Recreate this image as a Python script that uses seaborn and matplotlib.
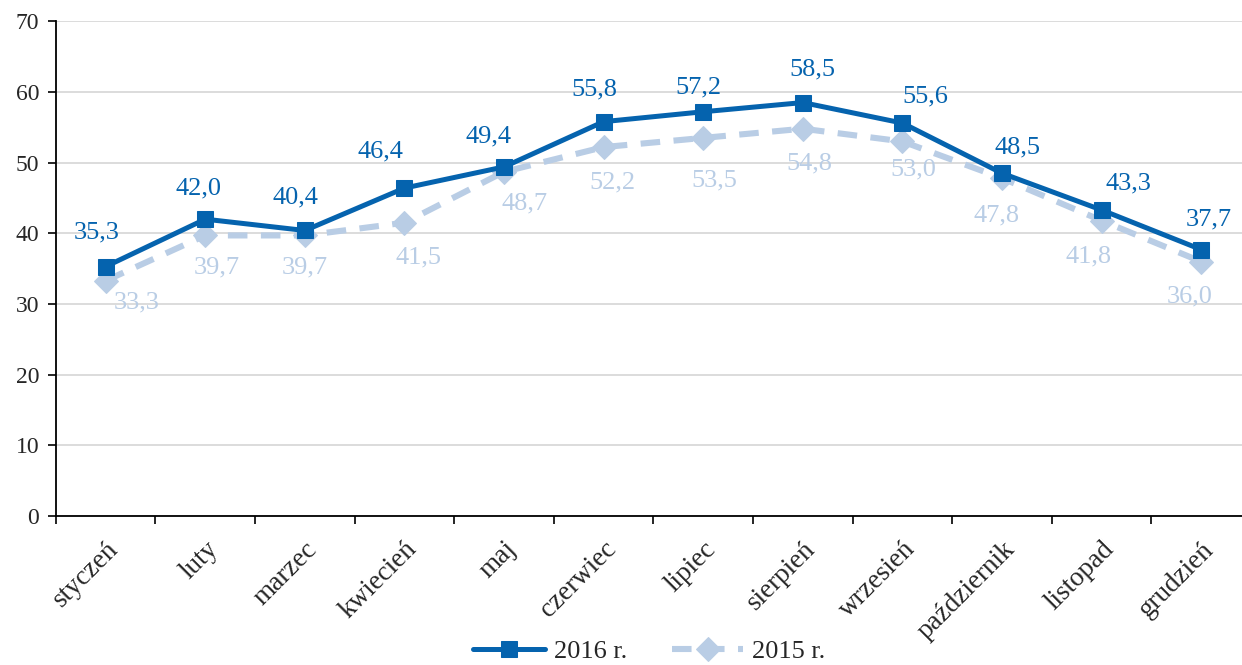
import numpy as np
import pandas as pd
import matplotlib
matplotlib.use("Agg")
import matplotlib.pyplot as plt
import seaborn as sns
from matplotlib.ticker import FixedLocator

months = ["styczeń", "luty", "marzec", "kwiecień", "maj", "czerwiec",
          "lipiec", "sierpień", "wrzesień", "październik", "listopad", "grudzień"]
vals_2016 = [35.3, 42.0, 40.4, 46.4, 49.4, 55.8, 57.2, 58.5, 55.6, 48.5, 43.3, 37.7]
vals_2015 = [33.3, 39.7, 39.7, 41.5, 48.7, 52.2, 53.5, 54.8, 53.0, 47.8, 41.8, 36.0]

# label offsets (pixels) as placed in the original
off_2016 = [(-9, 34), (-7, 31), (-9, 33), (-24, 37), (-16, 30), (-9, 32),
            (-5, 24), (10, 33), (23, 27), (16, 26), (27, 27), (8, 30)]
off_2015 = [(31, -22), (11, -32), (0, -32), (14, -35), (21, -32), (9, -35),
            (11, -43), (7, -35), (11, -28), (-5, -37), (-13, -36), (-12, -35)]

dark = "#0563AE"
light = "#B9CDE5"

sns.set_style("white")
plt.rcParams['font.family'] = ['Liberation Serif', 'DejaVu Serif']

df = pd.DataFrame({"idx": np.arange(len(months)), "m": months,
                   "v2016": vals_2016, "v2015": vals_2015})

fig = plt.figure(figsize=(12.42, 6.65), dpi=100)
ax = fig.add_axes([0.045, 0.224, 0.955, 0.744])

sns.lineplot(data=df, x="idx", y="v2015", ax=ax, color=light, lw=4.4,
             marker="D", markersize=12, markeredgecolor=light,
             dashes=(3.2, 2.2), label="2015 r.", zorder=3)
sns.lineplot(data=df, x="idx", y="v2016", ax=ax, color=dark, lw=3.6,
             marker="s", markersize=11, markeredgecolor=dark,
             label="2016 r.", zorder=4)

px = 0.72  # pixels -> points at dpi 100
for i, (a, b) in enumerate(zip(vals_2016, vals_2015)):
    ax.annotate(f"{a:.1f}".replace(".", ","), (i, a),
                xytext=(off_2016[i][0] * px, off_2016[i][1] * px),
                textcoords="offset points", ha="center", va="center",
                fontsize=19, color=dark)
    ax.annotate(f"{b:.1f}".replace(".", ","), (i, b),
                xytext=(off_2015[i][0] * px, off_2015[i][1] * px),
                textcoords="offset points", ha="center", va="center",
                fontsize=19, color=light)

ax.set_ylim(0, 70)
ax.set_yticks(range(0, 71, 10))
ax.set_xlim(-0.5, 11.41)
ax.set_xticks(range(len(months)))
ax.set_xticklabels(months, rotation=45, ha="right", rotation_mode="anchor")
ax.xaxis.set_minor_locator(FixedLocator(np.arange(-0.5, 11.6, 1)))
ax.tick_params(axis="x", which="major", length=0, labelsize=19.5, pad=15)
ax.tick_params(axis="x", which="minor", length=6, width=1.2, color="black", direction="out", bottom=True)
ax.tick_params(axis="y", length=6, width=1.2, color="black", direction="out", left=True, labelsize=17, pad=6)
ax.grid(axis="y", color="#D9D9D9", lw=1.3)
ax.set_axisbelow(True)
ax.set_xlabel("")
ax.set_ylabel("")
for s in ["top", "right"]:
    ax.spines[s].set_visible(False)
for s in ["left", "bottom"]:
    ax.spines[s].set_color("black")
    ax.spines[s].set_linewidth(1.3)

h, l = ax.get_legend_handles_labels()
ax.get_legend().remove()
fig.legend([h[1], h[0]], [l[1], l[0]], loc="center", bbox_to_anchor=(0.523, 0.02),
           ncol=2, frameon=False, fontsize=19, handlelength=2.7, columnspacing=1.7,
           handletextpad=0.35)

fig.savefig("out.png", dpi=100)
